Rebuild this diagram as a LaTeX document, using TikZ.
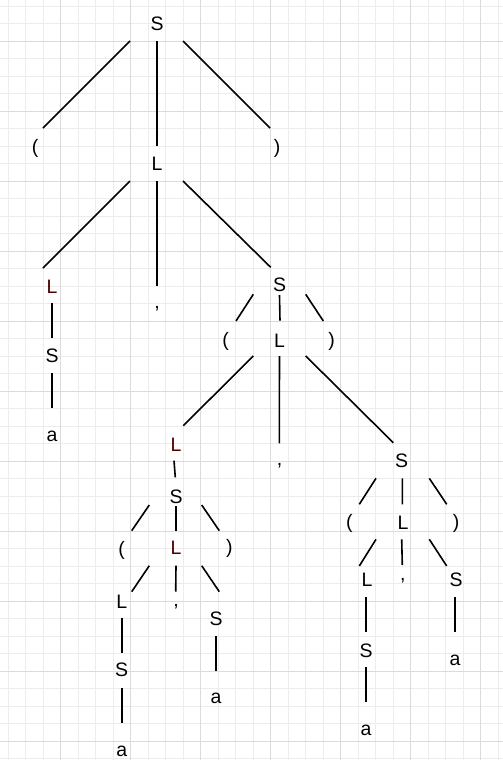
\documentclass[tikz,border=0pt]{standalone}
\usepackage{fontspec}
\setmainfont{Liberation Sans}
\definecolor{gridminor}{RGB}{236,236,236}
\definecolor{gridmajor}{RGB}{219,219,219}
\definecolor{darkred}{RGB}{75,0,0}
\newcommand\tedge[6]{\draw[edge] ([shift={(#2,#3)}]#1.center) -- ([shift={(#5,#6)}]#4.center);}
\begin{document}
\begin{tikzpicture}[x=0.75pt,y=-0.75pt,
  sym/.style={inner sep=0pt,outer sep=0pt,font=\fontsize{14.6}{17}\selectfont,text=black},
  redsym/.style={sym,text=darkred},
  edge/.style={draw=black,line width=1.2pt},
  minor/.style={draw=gridminor,line width=0.75pt},
  major/.style={draw=gridmajor,line width=0.75pt}]
\useasboundingbox (0,0) rectangle (503,760);
\fill[white] (0,0) rectangle (503,760);
% grid
\foreach \k in {0,...,28} {\pgfmathsetmacro\xx{8.2+17.5*\k}\draw[minor] (\xx,0) -- (\xx,760);}
\foreach \k in {0,...,43} {\pgfmathsetmacro\yy{6.3+17.5*\k}\draw[minor] (0,\yy) -- (503,\yy);}
\foreach \k in {0,...,6} {\pgfmathsetmacro\xx{60.7+70*\k}\draw[major] (\xx,0) -- (\xx,760);}
\foreach \k in {0,...,10} {\pgfmathsetmacro\yy{41.3+70*\k}\draw[major] (0,\yy) -- (503,\yy);}
% nodes
\node[sym] (S0) at (157,24) {S};
\node[sym] (lp0) at (35,148) {(};
\node[sym] (L1) at (157,164) {L};
\node[sym] (rp0) at (277,148) {)};
\node[redsym] (L2) at (52,287) {L};
\node[sym] (c1) at (157,309) {,};
\node[sym] (S2) at (279.5,285) {S};
\node[sym] (S1) at (52,356) {S};
\node[sym] (a1) at (52,436) {a};
\node[sym] (lp2) at (225.5,341) {(};
\node[sym] (L3) at (279.5,341) {L};
\node[sym] (rp2) at (331.5,341) {)};
\node[redsym] (L4) at (176,445) {L};
\node[sym] (c3) at (279.5,466) {,};
\node[sym] (S3) at (401.7,461) {S};
\node[sym] (S4) at (176,496.5) {S};
\node[sym] (lp4) at (121.7,550) {(};
\node[redsym] (L5) at (176,548) {L};
\node[sym] (rp4) at (229.3,548.5) {)};
\node[sym] (lp3) at (349.3,523) {(};
\node[sym] (L7) at (403,522.5) {L};
\node[sym] (rp3) at (456,523) {)};
\node[sym] (L6) at (121.7,601.5) {L};
\node[sym] (c5) at (176,606.7) {,};
\node[sym] (S5) at (216,619) {S};
\node[sym] (L8) at (367,580) {L};
\node[sym] (c7) at (402.7,581) {,};
\node[sym] (S7) at (456,580) {S};
\node[sym] (S6) at (121.7,670) {S};
\node[sym] (a6) at (121.7,751) {a};
\node[sym] (a5) at (216,698) {a};
\node[sym] (S8) at (366,650.7) {S};
\node[sym] (a8) at (366,730) {a};
\node[sym] (a7) at (455,660) {a};
% edges
\tedge{S0}{-27}{17}{lp0}{8}{-20}
\tedge{S0}{0}{17}{L1}{0}{-18}
\tedge{S0}{26}{17}{rp0}{-7}{-20}
\tedge{L1}{-27}{17}{L2}{-9}{-19}
\tedge{L1}{0}{17}{c1}{0}{-23}
\tedge{L1}{26}{17}{S2}{-8.8}{-17.7}
\tedge{L2}{0}{16}{S1}{0}{-18}
\tedge{S1}{0}{17}{a1}{0}{-28}
\tedge{S2}{-26.2}{9.3}{lp2}{10.5}{-20}
\tedge{S2}{0}{10}{L3}{0.5}{-20.3}
\tedge{S2}{26.2}{9.3}{rp2}{-8.2}{-20}
\tedge{L3}{-26.2}{15}{L4}{7.3}{-19.3}
\tedge{L3}{0}{15}{c3}{-0.2}{-22.7}
\tedge{L3}{26.2}{15}{S3}{-8.4}{-18.3}
\tedge{L4}{-2}{15.7}{S4}{-0.7}{-19.2}
\tedge{S4}{-26.7}{8.5}{lp4}{10}{-19.3}
\tedge{S4}{0}{9.5}{L5}{0}{-17.3}
\tedge{S4}{25.7}{8.5}{rp4}{-10}{-17.8}
\tedge{L5}{-26.7}{17.7}{L6}{10}{-9.8}
\tedge{L5}{0}{17.7}{c5}{-0.3}{-15}
\tedge{L5}{25.7}{17.7}{S5}{3.3}{-27.3}
\tedge{L6}{0}{16.8}{S6}{0}{-17.3}
\tedge{S6}{0}{18.3}{a6}{0}{-27.7}
\tedge{S5}{0}{17}{a5}{0}{-27.3}
\tedge{S3}{-25.7}{17.3}{lp3}{10}{-18.7}
\tedge{S3}{0.6}{17.3}{L7}{-0.7}{-18.2}
\tedge{S3}{27.6}{17.3}{rp3}{-9.3}{-18.7}
\tedge{L7}{-27}{16.8}{L8}{-7.7}{-14}
\tedge{L7}{-1.3}{16.8}{c7}{-0.4}{-16}
\tedge{L7}{26.3}{16.8}{S7}{-9.3}{-14}
\tedge{L8}{-1}{17.3}{S8}{0}{-19}
\tedge{S8}{0}{16.6}{a8}{0}{-28.3}
\tedge{S7}{-1}{17.3}{a7}{0}{-28.3}
\end{tikzpicture}
\end{document}
